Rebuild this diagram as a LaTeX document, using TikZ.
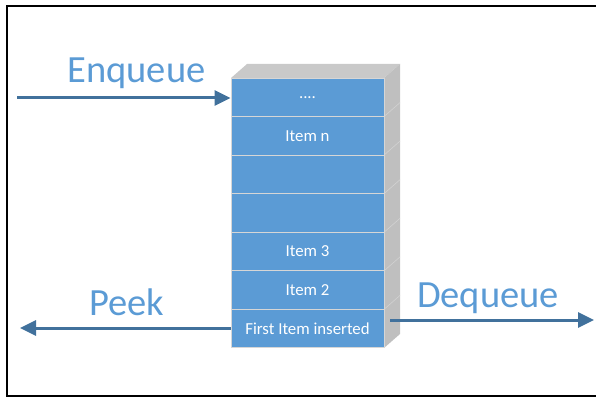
\documentclass[tikz,border=0pt]{standalone}
\usepackage{fontspec}
\setmainfont{Carlito}
\usetikzlibrary{arrows.meta}
\definecolor{cellblue}{HTML}{5B9BD5}
\definecolor{sepgray}{HTML}{D6D6D6}
\definecolor{topgray}{HTML}{C9C9C9}
\definecolor{sidegray}{HTML}{BFBFBF}
\definecolor{arrowblue}{HTML}{41719C}
\definecolor{labelblue}{HTML}{5B9BD5}
\tikzset{
  cell/.style={draw=sepgray,line width=1pt,fill=cellblue,text=white,
    minimum width=153pt,minimum height=38.57pt,inner sep=0pt,
    font=\fontsize{16.8}{20}\selectfont},
  oplabel/.style={text=labelblue,anchor=base,inner sep=0pt,
    font=\fontsize{38.5}{42}\selectfont},
  oparrow/.style={draw=arrowblue,line width=3pt,
    -{Triangle[length=16pt,width=15pt]}}
}
\begin{document}
\begin{tikzpicture}[x=1pt,y=-1pt]
        \useasboundingbox (0,0) rectangle (596,398);
        % frame
        \draw[line width=2pt] (7,6) rectangle (610,396);
        % box faces
        \fill[topgray] (231,78) -- (247,64) -- (400,64) -- (384,78) -- cycle;
        \fill[sidegray] (384,78) -- (400,64) -- (400,334) -- (384,348) -- cycle;
        \foreach \y in {116.6,155.1,193.7,232.3,270.9,309.4}
          \draw[white!30!sidegray,line width=0.6pt] (384,\y) -- (400,\y-14);
        \begin{scope}[every node/.style={cell}]
          \node (r1) at (307.5,97.3) {....};
          \node (r2) at (307.5,135.9) {Item n};
          \node (r3) at (307.5,174.4) {};
          \node (r4) at (307.5,213.0) {};
          \node (r5) at (307.5,251.6) {Item 3};
          \node (r6) at (307.5,290.1) {Item 2};
          \node (r7) at (307.5,328.7) {First Item inserted};
        \end{scope}
        % operations
        \node[oplabel] (enq) at (136.5,83) {Enqueue};
        \node[oplabel] (peek) at (126.5,315) {Peek};
        \node[oplabel] (deq) at (488,307) {Dequeue};
        \coordinate (enqstart) at (17,98);
        \coordinate (peekend) at (20,328);
        \coordinate (deqstart) at (390,320);
        \coordinate (deqend) at (594,320);
        \draw[oparrow] (enqstart) -- (enqstart -| r1.west);
        \draw[oparrow] (r7.west |- peekend) -- (peekend);
        \draw[oparrow] (deqstart) -- (deqend);
      \end{tikzpicture}
\end{document}
